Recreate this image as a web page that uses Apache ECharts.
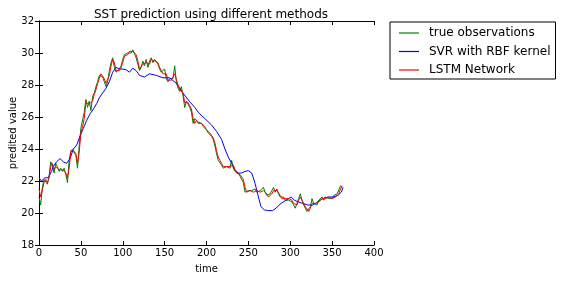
<!DOCTYPE html>
<html><head><meta charset="utf-8">
<script src="https://cdn.jsdelivr.net/npm/echarts@6/dist/echarts.min.js"></script>
<style>html,body{margin:0;padding:0;background:#fff}#c{width:563px;height:281px}</style>
</head><body><div id="c"></div>
<script>
const xTicks = [0,50,100,150,200,250,300,350,400];
const yTicks = [18,20,22,24,26,28,30,32];
const seriesNames = ['true observations','SVR with RBF kernel','LSTM Network'];
// sampled every 2 days, starting at day 0
const observed = [21.0,20.5,21.6,22.1,22.0,21.8,22.3,23.2,23.0,22.5,23.1,22.9,22.6,22.8,22.6,22.8,22.4,21.9,23.3,23.9,
24.0,23.8,23.6,22.8,24.2,25.3,25.2,26.3,27.1,26.6,27.0,26.4,27.3,27.5,27.9,28.2,28.6,28.7,28.5,28.2,
27.9,28.2,28.9,29.4,29.7,29.1,28.8,28.8,29.0,29.2,29.6,29.9,29.8,30.0,30.1,30.0,30.2,30.1,29.7,29.3,
28.9,29.1,29.5,29.2,29.6,29.1,29.5,29.7,29.4,29.6,29.6,29.3,29.0,28.8,28.7,29.0,28.4,28.2,28.4,28.3,
28.4,29.2,28.2,27.8,27.6,27.9,27.3,26.6,27.0,26.9,26.6,26.3,25.6,25.9,25.9,25.7,25.8,25.6,25.4,25.4,
25.2,25.0,25.1,24.8,24.6,24.2,23.7,23.3,23.2,23.0,22.8,22.9,22.9,22.9,22.8,23.3,22.8,22.6,22.5,22.5,
22.3,22.3,21.9,21.3,21.3,21.4,21.5,21.4,21.3,21.5,21.3,21.2,21.4,21.3,21.6,21.3,21.1,21.0,21.2,21.4,
21.6,21.3,21.5,21.2,21.0,20.9,21.0,20.8,20.9,20.8,20.9,20.7,20.5,20.3,20.6,20.9,21.2,20.8,20.5,20.3,
20.1,20.2,20.4,20.9,20.6,20.6,20.5,20.8,20.9,21.0,20.8,21.0,21.0,20.9,21.0,20.9,21.1,21.0,21.2,21.3,
21.7,21.6];
const lstm = [21.5,21.0,20.9,21.9,22.1,21.9,22.2,22.9,23.1,22.7,22.9,23.0,22.7,22.7,22.7,22.8,22.5,22.2,22.8,23.8,
24.0,23.9,23.7,23.1,23.8,25.0,25.4,25.9,26.9,26.8,26.8,26.7,27.0,27.4,27.7,28.1,28.4,28.7,28.7,28.4,
28.1,28.0,28.6,29.2,29.6,29.4,28.9,28.8,28.9,29.1,29.4,29.8,29.9,29.9,30.1,30.1,30.1,30.2,29.9,29.5,
29.0,29.0,29.3,29.4,29.4,29.3,29.3,29.6,29.5,29.5,29.6,29.4,29.1,28.9,28.7,28.8,28.7,28.3,28.3,28.3,
28.3,28.7,28.7,28.0,27.7,27.7,27.5,26.9,26.8,26.9,26.8,26.5,25.9,25.6,25.8,25.6,25.7,25.6,25.5,25.4,
25.2,25.1,25.0,24.9,24.7,24.4,23.9,23.5,23.3,23.1,22.9,22.8,22.9,22.9,22.9,22.9,23.0,22.7,22.5,22.5,
22.4,22.3,22.1,21.6,21.3,21.2,21.4,21.4,21.3,21.4,21.4,21.3,21.3,21.3,21.4,21.4,21.2,21.0,21.0,21.2,
21.4,21.4,21.4,21.3,21.1,20.9,20.9,20.9,20.8,20.9,20.8,20.8,20.6,20.5,20.5,20.8,21.0,20.9,20.6,20.4,
20.3,20.1,20.3,20.6,20.7,20.6,20.5,20.7,20.8,20.9,20.9,20.9,21.0,21.0,20.9,20.9,21.0,21.0,21.1,21.2,
21.5,21.7];
const obsDays = observed.map((_, i) => i * 2);
const svrDays = [0,3,7,11,15,17,21,25,29,33,37,41,45,49,53,57,61,65,69,72,76,80,84,88,92,96,100,104,108,112,116,120,126,132,140,148,156,164,172,180,186,190,198,206,212,218,222,226,230,234,238,242,246,250,254,258,262,265,269,273,279,283,289,295,301,305,309,315,321,327,333,339,345,351,357,361,363];
const svr = [22.2,22.0,22.2,22.2,22.6,22.9,23.2,23.4,23.2,23.1,23.4,24.0,24.25,24.8,25.3,25.8,26.2,26.5,26.85,27.2,27.5,27.8,28.2,28.8,29.1,29.0,29.0,28.95,28.8,29.05,28.9,28.6,28.5,28.7,28.6,28.45,28.45,28.1,27.5,26.95,26.6,26.3,25.9,25.5,25.1,24.6,24.0,23.5,23.1,22.7,22.5,22.5,22.6,22.65,22.5,21.85,21.0,20.4,20.2,20.15,20.15,20.3,20.6,20.8,21.0,20.8,20.7,20.6,20.5,20.5,20.7,20.9,21.0,21.0,21.1,21.3,21.6];

const pair = (xs, ys) => xs.map((x, i) => [x, ys[i]]);
const font = 'DejaVu Sans';
const chart = echarts.init(document.getElementById('c'), null, {renderer: 'canvas'});
const axisCommon = {
  axisLine: {show: true, lineStyle: {color: '#000', width: 1}},
  axisTick: {show: true, inside: true, length: 4, lineStyle: {color: '#000'}},
  splitLine: {show: false}
};
chart.setOption({
  animation: false,
  backgroundColor: '#fff',
  title: {text: 'SST prediction using different methods', left: 206, top: 4, textAlign: 'center',
    textStyle: {fontFamily: font, fontSize: 12, fontWeight: 'normal', color: '#000'}},
  grid: {left: 39, top: 21, width: 335, height: 224, containLabel: false, outerBoundsMode: 'none'},
  legend: {
    orient: 'vertical', left: 390, top: 22, data: seriesNames,
    icon: 'rect', itemWidth: 20, itemHeight: 1.2, itemGap: 6.5,
    borderColor: '#000', borderWidth: 1, borderRadius: 0, padding: [5, 5, 3, 9],
    textStyle: {fontFamily: font, fontSize: 12, color: '#000', padding: [0, 0, 0, 5]}
  },
  xAxis: [
    Object.assign({type: 'value', min: 0, max: 400, interval: 50, name: 'time', nameLocation: 'middle', nameGap: 19,
      nameMoveOverlap: false,
      nameTextStyle: {fontFamily: font, fontSize: 10, color: '#000'},
      axisLabel: {fontFamily: font, fontSize: 10, color: '#000', margin: 3}}, axisCommon),
    Object.assign({type: 'value', min: 0, max: 400, interval: 50, position: 'top', axisLabel: {show: false}}, axisCommon)
  ],
  yAxis: [
    Object.assign({type: 'value', min: 18, max: 32, interval: 2, name: 'predited value', nameLocation: 'middle', nameGap: 21,
      nameMoveOverlap: false,
      nameTextStyle: {fontFamily: font, fontSize: 10, color: '#000'},
      axisLabel: {fontFamily: font, fontSize: 10, color: '#000', margin: 5}}, axisCommon),
    Object.assign({type: 'value', min: 18, max: 32, interval: 2, position: 'right', axisLabel: {show: false}}, axisCommon)
  ],
  series: [
    {name: seriesNames[0], type: 'line', data: pair(obsDays, observed), showSymbol: false, symbol: 'none',
      lineStyle: {color: '#008000', width: 1}, itemStyle: {color: '#008000'}},
    {name: seriesNames[1], type: 'line', data: pair(svrDays, svr), showSymbol: false, symbol: 'none',
      lineStyle: {color: '#0000ff', width: 1}, itemStyle: {color: '#0000ff'}},
    {name: seriesNames[2], type: 'line', data: pair(obsDays, lstm), showSymbol: false, symbol: 'none',
      lineStyle: {color: '#ff0000', width: 1}, itemStyle: {color: '#ff0000'}}
  ]
});
</script></body></html>
